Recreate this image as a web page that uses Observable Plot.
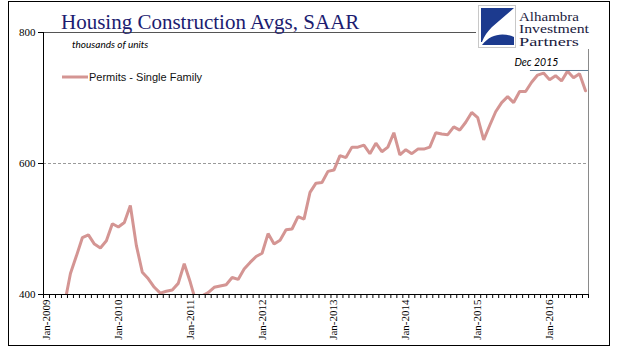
<!DOCTYPE html>
<html>
<head>
<meta charset="utf-8">
<script src="https://cdn.jsdelivr.net/npm/d3@7"></script>
<script src="https://cdn.jsdelivr.net/npm/@observablehq/plot@0.6"></script>
<style>
  html, body { margin: 0; padding: 0; background: #fff; }
  #chart { position: relative; width: 618px; height: 361px; }
</style>
</head>
<body>
<div id="chart"></div>
<script>
// Monthly categories Jan-2009 .. Jul-2016 (91 months); values in thousands of units (SAAR)
const firstYear = 2009;
const monthCount = 91;
const permits = [
  null, null, null, 385, 432, 459, 487, 491, 477, 471, 482, 508,
  503, 510, 536, 475, 434, 424, 411, 402, 405, 407, 417, 447,
  419, 387, 398, 403, 411, 413, 415, 426, 423, 439, 449, 458,
  463, 493, 477, 483, 499, 500, 519, 515, 556, 570, 571, 588,
  590, 612, 609, 625, 625, 628, 615, 631, 618, 625, 647, 613,
  621, 615, 622, 622, 625, 647, 645, 644, 656, 651, 663, 678,
  670, 636, 658, 679, 693, 702, 693, 710, 710, 724, 735, 738,
  728, 734, 726, 741, 731, 737, 711
];
const janLabels = ["Jan-2009","Jan-2010","Jan-2011","Jan-2012","Jan-2013","Jan-2014","Jan-2015","Jan-2016"];
const yTicks = [400, 600, 800];
const seriesName = "Permits - Single Family";
const decLevel = 742;
const decLabel = "Dec 2015";

const data = permits.map((v, i) => ({i: i + 0.5, v}));
const jans = janLabels.map((label, k) => ({i: k * 12 + 0.5, label}));

const rose = "#d49593";

const plot = Plot.plot({
  width: 618,
  height: 361,
  marginLeft: 43,
  marginRight: 30,
  marginTop: 32,
  marginBottom: 67,
  style: {background: "transparent", fontFamily: "Liberation Serif", fontSize: "11px", color: "#000"},
  x: {domain: [0, monthCount], axis: null},
  y: {domain: [400, 800], axis: null},
  marks: [
    Plot.ruleY([600], {stroke: "#9a9a9a", strokeDasharray: "3,2"}),
    Plot.ruleY([800], {stroke: "#555"}),
    Plot.ruleX([monthCount], {stroke: "#8a8a8a"}),
    Plot.line(data, {x: "i", y: "v", stroke: rose, strokeWidth: 3, clip: true, strokeLinejoin: "miter"}),
    Plot.ruleY([decLevel], {x1: 81.3, x2: monthCount, stroke: "#5f7d95"}),
    Plot.text([decLabel], {x: 82.3, y: 754, text: d => d, fontFamily: "Lato", fontStyle: "italic", fontSize: 10.5, fill: "#000"}),
    Plot.ruleX([0], {stroke: "#000"}),
    Plot.ruleY([400], {stroke: "#000"}),
    Plot.axisY({ticks: yTicks, tickSize: 5, tickPadding: 3, tickFormat: d => String(d), label: null, fontFamily: "Liberation Serif", fontSize: 11}),
    Plot.axisX({ticks: d3.range(0, monthCount + 1), tickSize: 4, tickFormat: () => "", label: null}),
    Plot.text(jans, {x: "i", y: 400, text: "label", rotate: -90, textAnchor: "end", dy: 5, fontFamily: "Liberation Serif", fontSize: 11, fill: "#000"})
  ]
});

document.getElementById("chart").appendChild(plot);

const svg = d3.select(plot);

// Title
svg.append("text")
  .attr("x", 61).attr("y", 29)
  .attr("text-anchor", "start")
  .attr("font-family", "Liberation Serif").attr("font-size", 21)
  .attr("fill", "#1c1c70")
  .text("Housing Construction Avgs, SAAR");

// Units note
svg.append("text")
  .attr("x", 72).attr("y", 48)
  .attr("text-anchor", "start")
  .attr("font-family", "Lato").attr("font-style", "italic").attr("font-size", 10)
  .attr("fill", "#000")
  .text("thousands of units");

// Legend
svg.append("line")
  .attr("x1", 62).attr("x2", 88).attr("y1", 77).attr("y2", 77)
  .attr("stroke", rose).attr("stroke-width", 3);
svg.append("text")
  .attr("x", 89).attr("y", 77).attr("dy", "0.35em")
  .attr("text-anchor", "start")
  .attr("font-family", "Liberation Sans").attr("font-size", 11)
  .attr("fill", "#111")
  .text(seriesName);

// Logo
const logo = svg.append("g");
logo.append("rect").attr("x", 476).attr("y", 3).attr("width", 126).attr("height", 46).attr("fill", "#fff");
logo.append("rect").attr("x", 478.5).attr("y", 5.5).attr("width", 37).attr("height", 42).attr("fill", "#fff").attr("stroke", "#c8c8c8");
logo.append("path")
  .attr("d", "M481,8 L514,8 L492,27 C488,31 484,36 482,42 L481,42 Z")
  .attr("fill", "#1c3a8e");
logo.append("path")
  .attr("d", "M482,45 C490,34 503,32 514,37 L514,45 Z")
  .attr("fill", "#1c3a8e");
const lt = [["Alhambra", 20.5, 60], ["Investment", 33, 70], ["Partners", 45.5, 60]];
lt.forEach(([t, y, w]) => {
  logo.append("text").attr("x", 519).attr("y", y)
    .attr("text-anchor", "start")
    .attr("font-family", "Liberation Serif").attr("font-size", 12.5)
    .attr("textLength", w).attr("lengthAdjust", "spacingAndGlyphs")
    .attr("fill", "#1a1a40").text(t);
});

// Outer frame
svg.append("rect")
  .attr("x", 8.5).attr("y", 1.5).attr("width", 601).attr("height", 344)
  .attr("fill", "none").attr("stroke", "#000");
</script>
</body>
</html>
